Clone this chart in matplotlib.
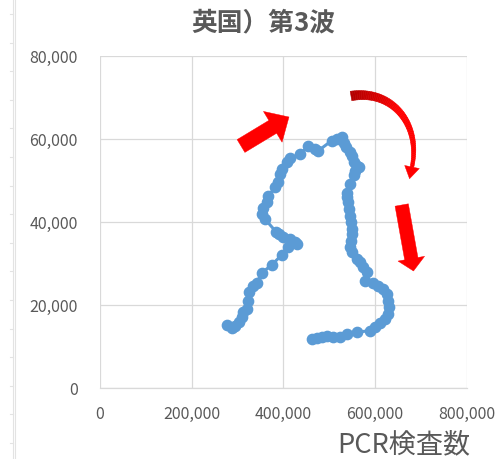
import numpy as np
import matplotlib
matplotlib.use("Agg")
import matplotlib.pyplot as plt
from matplotlib.patches import Polygon
from matplotlib.transforms import Affine2D
from matplotlib.ticker import FuncFormatter

plt.rcParams['font.family'] = ['Noto Sans CJK JP', 'DejaVu Sans']

# UK third wave: daily PCR tests (x) vs. new cases (y), in time order
pcr_tests = [
    277700, 287200, 294400, 303900, 309000, 312600, 320000, 323500, 325700, 334400,
    341700, 352600, 374500, 396300, 410800, 429000, 425300, 414400, 399800, 391100,
    383900, 359900, 352600, 356200, 363500, 367100, 381700, 389000, 392600, 396300,
    408600, 414400, 436200, 454300, 468900, 476200, 505300, 516200, 527100, 532200,
    536500, 545300, 548900, 554000, 559800, 565600, 556200, 554000, 545300, 538000,
    539300, 541500, 543700, 545300, 546800, 548900, 548900, 546800, 545300, 548900,
    559800, 567100, 574300, 581600, 577900, 596100, 607000, 617900, 625300, 628800,
    630900, 628800, 621600, 610700, 599800, 588900, 559800, 538000, 523400, 508800,
    494400, 483500, 472600, 461700,
]
new_cases = [
    15160, 14370, 14850, 15810, 17020, 18220, 19020, 21010, 23030, 24620,
    25270, 27680, 29610, 32010, 33870, 34660, 35210, 35860, 36270, 37070,
    37620, 40680, 41880, 43250, 44840, 46140, 48300, 49510, 51510, 52710,
    54480, 55280, 56320, 58170, 57530, 57120, 59530, 59930, 60340, 58970,
    57930, 56730, 55770, 54320, 53510, 53110, 52310, 51270, 49100, 46940,
    45900, 44700, 43090, 41480, 39880, 38270, 37070, 35460, 33870, 32660,
    31050, 30250, 29040, 27850, 25830, 25270, 24620, 23830, 22630, 21010,
    19420, 17810, 16610, 15650, 14610, 13820, 13410, 13000, 12200, 12200,
    12590, 12200, 11960, 11790,
]

x_ticks = [0, 200000, 400000, 600000, 800000]
y_ticks = [0, 20000, 40000, 60000, 80000]
title_text = "英国）第3波"
x_label = "PCR検査数"

W, H = 497, 460
fig = plt.figure(figsize=(W / 100, H / 100), dpi=100)
ax = fig.add_axes([100 / W, 1 - 389 / H, 366.7 / W, 332.3 / H])

gray_text = "#595959"
grid_col = "#D9D9D9"
blue = "#5B9BD5"

ax.plot(pcr_tests, new_cases, color=blue, lw=2.2, marker="o", ms=7.4,
        mec=blue, mfc=blue, zorder=3)

ax.set_xlim(x_ticks[0], x_ticks[-1])
ax.set_ylim(y_ticks[0], y_ticks[-1])
ax.set_xticks(x_ticks)
ax.set_yticks(y_ticks)
fmt = FuncFormatter(lambda v, p: f"{int(v):,}")
ax.xaxis.set_major_formatter(fmt)
ax.yaxis.set_major_formatter(fmt)
ax.grid(True, color=grid_col, lw=0.9, zorder=0)
for s in ["top", "right", "left"]:
    ax.spines[s].set_visible(False)
ax.spines["bottom"].set_color(grid_col)
ax.spines["bottom"].set_linewidth(0.9)
ax.tick_params(axis="both", length=0, labelsize=11.5, labelcolor=gray_text)
ax.tick_params(axis="y", pad=16)
ax.tick_params(axis="x", pad=12)

fig.text(263.5 / W, 1 - 23 / H, title_text, ha="center", va="center",
         fontsize=18.5, fontweight="bold", color=gray_text)
fig.text(470 / W, 1 - 445 / H, x_label, ha="right", va="center",
         fontsize=19.5, color=gray_text)

# pixel-space transform (origin top-left) for the decorative arrows
px = Affine2D().scale(1 / W, -1 / H).translate(0, 1) + fig.transFigure


def straight_arrow(tail, tip, shaft_w, head_w, head_l, color):
    tail = np.array(tail, float)
    tip = np.array(tip, float)
    d = tip - tail
    d /= np.hypot(*d)
    n = np.array([-d[1], d[0]])
    base = tip - d * head_l
    pts = [tail + n * shaft_w / 2, base + n * shaft_w / 2, base + n * head_w / 2,
           tip, base - n * head_w / 2, base - n * shaft_w / 2, tail - n * shaft_w / 2]
    fig.patches.append(Polygon(pts, closed=True, transform=px, fc=color,
                               ec=color, lw=0.3, zorder=5))


straight_arrow((241, 147), (289, 118), 15, 36, 19, "#FF0000")
straight_arrow((401.7, 206), (413.5, 272), 13.5, 27, 12.5, "#FF0000")

# curved, tapering arrow with a dark-to-bright red gradient
P = np.array([[351, 97], [392, 90], [421, 125], [412, 168]], float)
t = np.linspace(0, 1, 60)[:, None]
curve = ((1 - t) ** 3 * P[0] + 3 * (1 - t) ** 2 * t * P[1]
         + 3 * (1 - t) * t ** 2 * P[2] + t ** 3 * P[3])
deriv = (3 * (1 - t) ** 2 * (P[1] - P[0]) + 6 * (1 - t) * t * (P[2] - P[1])
         + 3 * t ** 2 * (P[3] - P[2]))
deriv /= np.hypot(deriv[:, 0], deriv[:, 1])[:, None]
normal = np.column_stack([-deriv[:, 1], deriv[:, 0]])
width = 9.5 * (1 - t[:, 0]) + 3.5 * t[:, 0]
left = curve + normal * width[:, None] / 2
right = curve - normal * width[:, None] / 2
c0 = np.array([0.70, 0.0, 0.0])
c1 = np.array([1.0, 0.0, 0.0])
for i in range(len(t) - 1):
    frac = min(1.0, t[i, 0] * 2.2)
    col = c0 * (1 - frac) + c1 * frac
    quad = [left[i], left[i + 1], right[i + 1], right[i]]
    fig.patches.append(Polygon(quad, closed=True, transform=px, fc=col,
                               ec=col, lw=0.4, zorder=5))
end = curve[-1]
dirn = deriv[-1]
nrm = normal[-1]
head = [end + nrm * 7.5, end + dirn * 12, end - nrm * 7.5]
fig.patches.append(Polygon(head, closed=True, transform=px, fc="#FF0000",
                           ec="#FF0000", lw=0.3, zorder=5))

# worksheet border lines at the far left
line_col = "#E3E3E3"
fig.add_artist(plt.Line2D([12.5 / W, 12.5 / W], [0, 1], color=line_col, lw=0.8))
fig.add_artist(plt.Line2D([15 / W, 15 / W], [0, 1], color=line_col, lw=0.8))
for yy in np.arange(15, 460, 28.6):
    fig.add_artist(plt.Line2D([10 / W, 12.5 / W], [1 - yy / H, 1 - yy / H],
                              color=line_col, lw=0.8))

fig.savefig("out.png", dpi=100)
